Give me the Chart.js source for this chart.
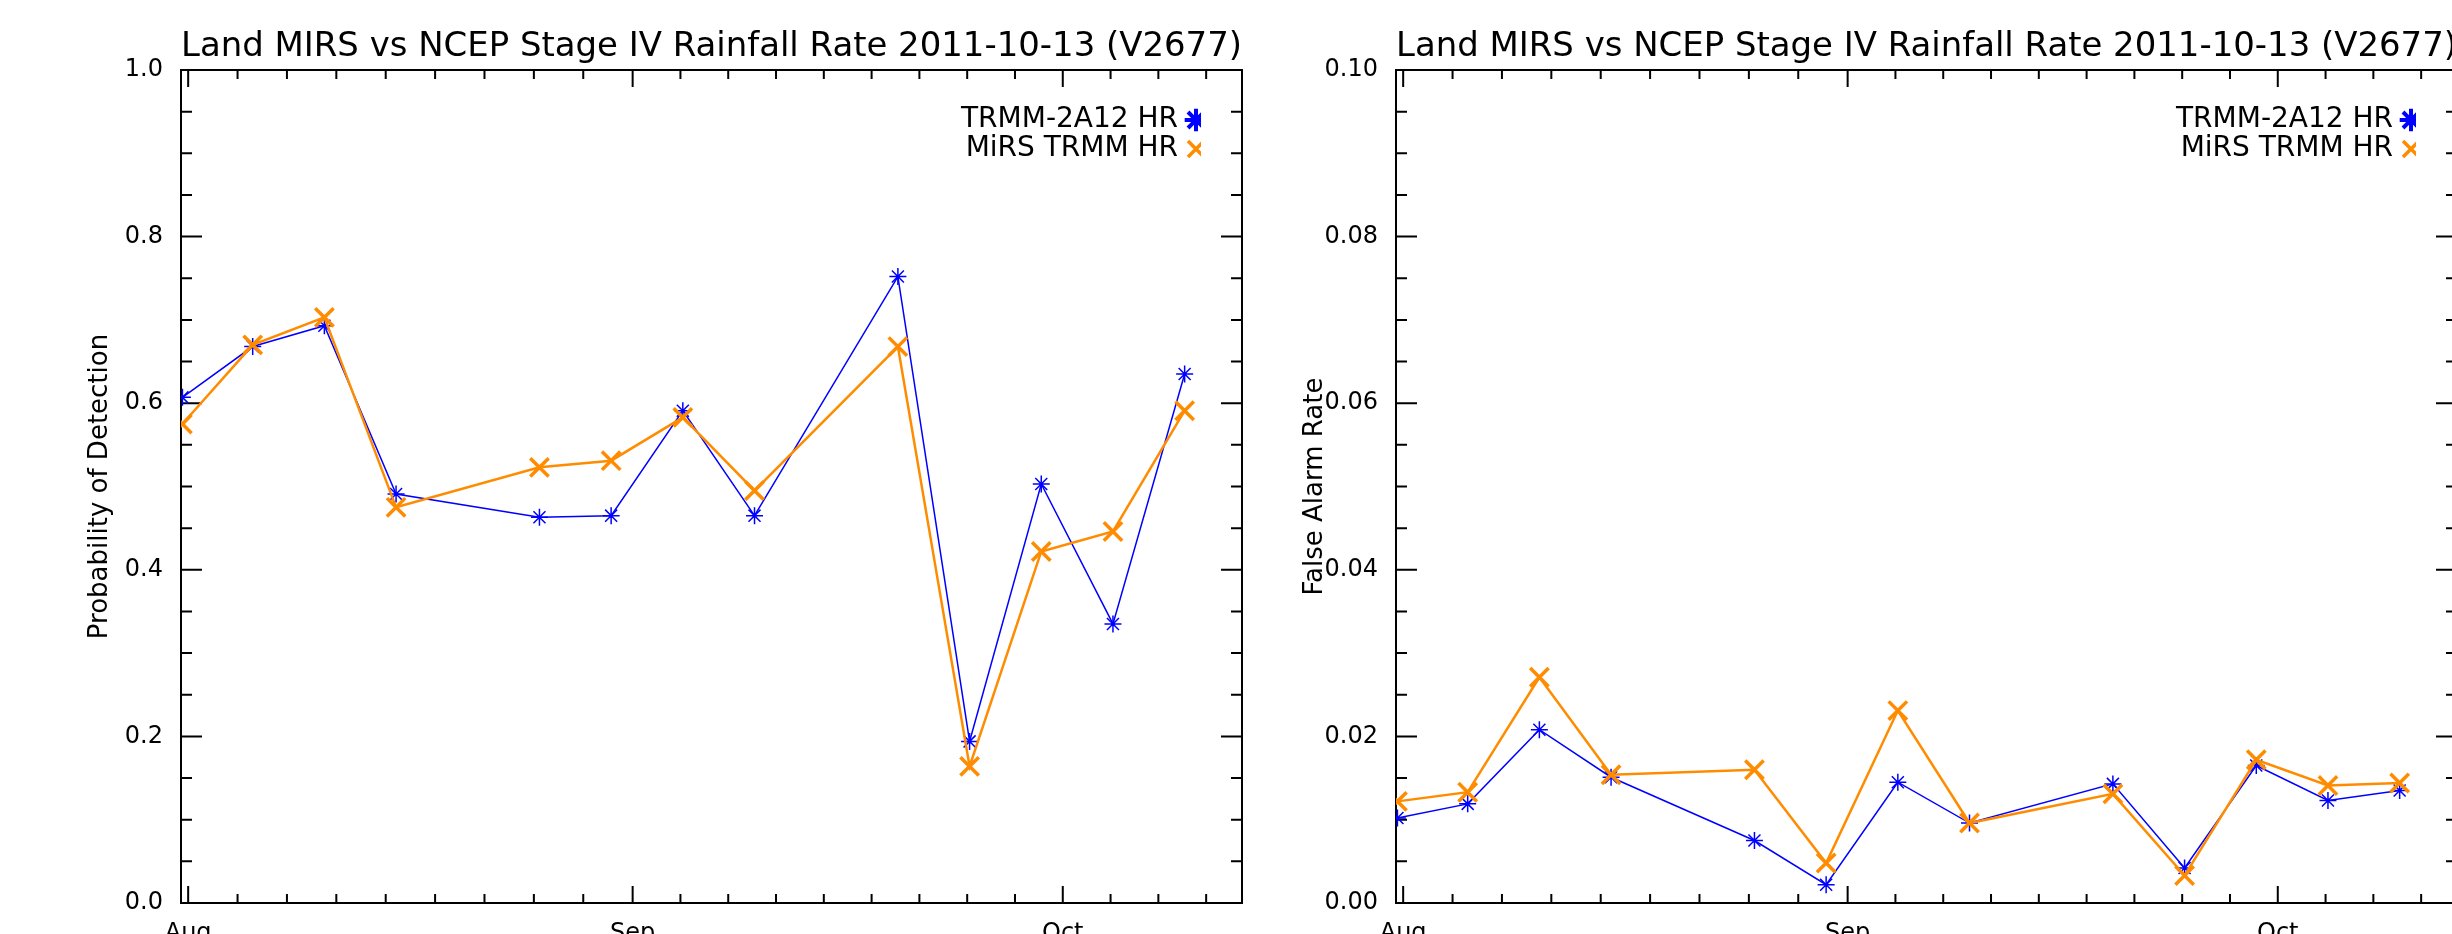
<!DOCTYPE html>
<html>
<head>
<meta charset="utf-8">
<script src="https://cdn.jsdelivr.net/npm/chart.js@4.4.0/dist/chart.umd.min.js"></script>
<style>
  html, body { margin: 0; padding: 0; background: #fff; }
  #page { position: relative; width: 2452px; height: 934px; overflow: hidden; background: #fff; }
  #page canvas { position: absolute; top: 0; }
  #podChart { left: 0; }
  #farChart { left: 1215px; }
</style>
</head>
<body>
<div id="page">
  <canvas id="podChart" width="1423" height="960"></canvas>
  <canvas id="farChart" width="1423" height="960"></canvas>
</div>
<script>
const chartTitle = 'Land MIRS vs NCEP Stage IV Rainfall Rate 2011-10-13 (V2677)';
const seriesNames = ['TRMM-2A12 HR', 'MiRS TRMM HR'];

// observation times, in days after 1 Aug 2011
const obsDays = [-0.4, 4.5, 9.5, 14.5, 24.5, 29.5, 34.5, 39.5, 49.5, 54.5, 59.5, 64.5, 69.5];

const podTrmm = [0.607, 0.668, 0.693, 0.491, 0.463, 0.465, 0.591, 0.465, 0.752, 0.194, 0.503, 0.335, 0.635];
const podMirs = [0.575, 0.670, 0.703, 0.475, 0.523, 0.531, 0.583, 0.495, 0.668, 0.164, 0.422, 0.446, 0.591];

const farTrmm = [0.0102, 0.0119, 0.0208, 0.0151, 0.0075, 0.0022, 0.0145, 0.0096, 0.0143, 0.0042, 0.0165, 0.0123, 0.0135];
const farMirs = [0.0122, 0.0133, 0.0271, 0.0154, 0.0160, 0.0048, 0.0231, 0.0096, 0.0131, 0.0033, 0.0172, 0.0141, 0.0144];

// x axis: month starts (days after 1 Aug) and labels
const monthStarts = [0, 31, 61];
const monthNames = ['Aug', 'Sep', 'Oct'];
const monthLengths = [31, 30, 30];
const dayRange = [-0.5, 73.5];

const FONT = 'DejaVu Sans';
const BLUE = '#0000ff';
const ORANGE = '#ff8c00';

// 9 intervals per month, like the original plot
const xTicks = [];
monthStarts.forEach((m, i) => {
  for (let k = 0; k < 9; k++) {
    const v = m + k * monthLengths[i] / 9;
    if (v <= dayRange[1]) xTicks.push(v);
  }
});

function pts(ys) {
  return obsDays.map((d, i) => ({x: d, y: ys[i]}));
}

// inward tick marks on all four sides + frame
const idlAxes = {
  id: 'idlAxes',
  beforeDatasetsDraw(chart) {
    const {ctx, chartArea: a, scales: {x, y}} = chart;
    ctx.save();
    ctx.strokeStyle = '#000';
    ctx.lineWidth = 2;
    ctx.beginPath();
    x.ticks.forEach(t => {
      const px = x.getPixelForValue(t.value);
      const len = t.label ? 17 : 9;
      ctx.moveTo(px, a.bottom); ctx.lineTo(px, a.bottom - len);
      ctx.moveTo(px, a.top); ctx.lineTo(px, a.top + len);
    });
    y.ticks.forEach(t => {
      const py = y.getPixelForValue(t.value);
      const len = t.label ? 21 : 11;
      ctx.moveTo(a.left, py); ctx.lineTo(a.left + len, py);
      ctx.moveTo(a.right, py); ctx.lineTo(a.right - len, py);
    });
    ctx.stroke();
    ctx.strokeRect(a.left, a.top, a.right - a.left, a.bottom - a.top);
    ctx.restore();
  }
};

// put the legend in the top right corner of the plot
const legendCorner = {
  id: 'legendCorner',
  afterLayout(chart) {
    const lg = chart.legend, a = chart.chartArea;
    const w = lg.width, h = lg.height;
    lg.right = a.right - 41;
    lg.left = lg.right - w;
    lg.top = a.top + 35;
    lg.bottom = lg.top + h;
  }
};

function makeChart(id, trmm, mirs, yMax, yStep, yMajor, yDigits, yTitle) {
  const ctx = document.getElementById(id).getContext('2d');
  const data = {
    datasets: [
      {
        label: seriesNames[0],
        data: pts(trmm),
        borderColor: BLUE,
        backgroundColor: BLUE,
        borderWidth: 1.5,
        pointStyle: 'star',
        pointRadius: 8.5,
        pointBorderWidth: 1.5,
        pointBorderColor: BLUE,
        tension: 0
      },
      {
        label: seriesNames[1],
        data: pts(mirs),
        borderColor: ORANGE,
        backgroundColor: ORANGE,
        borderWidth: 2.5,
        pointStyle: 'crossRot',
        pointRadius: 13,
        pointBorderWidth: 3.5,
        pointBorderColor: ORANGE,
        tension: 0,
        order: -1
      }
    ]
  };

  const config = {
    type: 'line',
    data: data,
    plugins: [idlAxes, legendCorner],
    options: {
      responsive: false,
      animation: false,
      events: [],
      layout: {
        padding: {left: 0, right: 181, top: 0, bottom: 0}
      },
      plugins: {
        title: {
          display: true,
          text: chartTitle,
          fullSize: false,
          color: '#000',
          font: {family: FONT, size: 34, weight: 'normal', lineHeight: 1},
          padding: {top: 30, bottom: 6}
        },
        legend: {
          position: 'chartArea',
          align: 'start',
          rtl: true,
          textDirection: 'ltr',
          labels: {
            usePointStyle: true,
            boxWidth: 8,
            boxHeight: 16,
            padding: 1,
            color: '#000',
            font: {family: FONT, size: 28, lineHeight: 1},
            sort: (a, b) => a.datasetIndex - b.datasetIndex,
            generateLabels(chart) {
              const items = Chart.defaults.plugins.legend.labels.generateLabels(chart);
              items.forEach(it => { it.lineWidth = it.datasetIndex === 0 ? 4 : 3.5; });
              return items;
            }
          }
        },
        tooltip: {enabled: false}
      },
      scales: {
        x: {
          type: 'linear',
          min: dayRange[0],
          max: dayRange[1],
          grid: {display: false},
          border: {display: false},
          afterBuildTicks: s => { s.ticks = xTicks.map(v => ({value: v})); },
          afterFit: s => { s.height = 57; },
          ticks: {
            autoSkip: false,
            maxRotation: 0,
            padding: 8,
            color: '#000',
            font: {family: FONT, size: 24},
            callback: v => {
              const i = monthStarts.indexOf(v);
              return i < 0 ? '' : monthNames[i];
            }
          }
        },
        y: {
          min: 0,
          max: yMax,
          grid: {display: false},
          border: {display: false},
          afterFit: s => { s.width = 181; },
          ticks: {
            stepSize: yStep,
            autoSkip: false,
            padding: 10,
            color: '#000',
            font: {family: FONT, size: 24},
            callback: v => {
              const r = v / yMajor;
              return Math.abs(r - Math.round(r)) < 1e-6 ? v.toFixed(yDigits) : '';
            }
          },
          title: {
            display: true,
            text: yTitle,
            color: '#000',
            font: {family: FONT, size: 26, lineHeight: 1.2},
            padding: {top: 85, bottom: 0}
          }
        }
      }
    }
  };
  return new Chart(ctx, config);
}

makeChart('podChart', podTrmm, podMirs, 1.0, 0.05, 0.2, 1, 'Probability of Detection');
makeChart('farChart', farTrmm, farMirs, 0.1, 0.005, 0.02, 2, 'False Alarm Rate');
</script>
</body>
</html>
